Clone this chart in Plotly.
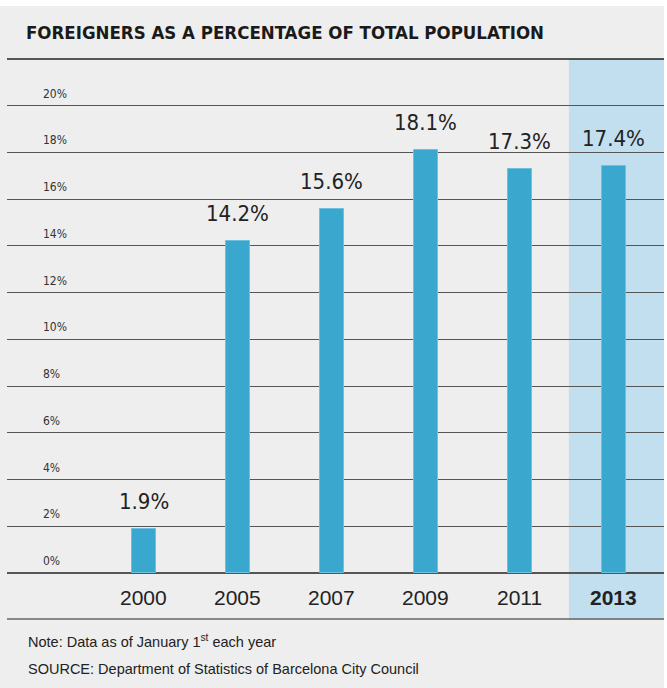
import plotly.graph_objects as go

years = ["2000", "2005", "2007", "2009", "2011", "2013"]
values = [1.9, 14.2, 15.6, 18.1, 17.3, 17.4]
value_labels = ["1.9%", "14.2%", "15.6%", "18.1%", "17.3%", "17.4%"]
y_ticks = [0, 2, 4, 6, 8, 10, 12, 14, 16, 18, 20]
y_tick_labels = ["0%", "2%", "4%", "6%", "8%", "10%", "12%", "14%", "16%", "18%", "20%"]
highlight_year = "2013"

W, H = 667, 688
L, R, T, B = 7, 3, 59, 115
pw, ph = W - L - R, H - T - B

def px_x(p):
    return (p - L) / pw

def px_y(p):
    return (H - B - p) / ph

NARROW = "Liberation Sans Narrow, Arial Narrow, DejaVu Sans Condensed, sans-serif"
SANS = "Liberation Sans, Arial, Helvetica, sans-serif"

xs = list(range(len(years)))
hi = years.index(highlight_year)

fig = go.Figure()
fig.add_trace(go.Bar(
    x=xs, y=values, width=0.25,
    marker=dict(color="#3aa7cf", line=dict(color="#6fc0de", width=1)),
    hoverinfo="skip",
))

shapes = [
    dict(type="rect", xref="paper", yref="paper", x0=px_x(0), x1=px_x(664),
         y0=px_y(688), y1=px_y(6), fillcolor="#eeeeee", line_width=0, layer="below"),
    dict(type="rect", xref="x", yref="paper", x0=hi - 0.48, x1=hi + 0.532,
         y0=px_y(620), y1=1, fillcolor="#c2dfef", line_width=0, layer="below"),
    dict(type="line", xref="paper", yref="paper", x0=0, x1=1,
         y0=px_y(619), y1=px_y(619), line=dict(color="#666666", width=1.5)),
    dict(type="line", xref="paper", yref="paper", x0=0, x1=1,
         y0=1, y1=1, line=dict(color="#222222", width=1.5)),
]

annotations = []
for v, t in zip(y_ticks, y_tick_labels):
    annotations.append(dict(x=px_x(41), xref="paper", y=v, yref="y", text=t,
                            showarrow=False, xanchor="left", yanchor="bottom", yshift=3,
                            font=dict(family=NARROW, size=12, color="#333333")))
for x, v, t in zip(xs, values, value_labels):
    annotations.append(dict(x=x, y=v, text=t, showarrow=False, xanchor="center",
                            yanchor="bottom", yshift=13,
                            font=dict(family=NARROW, size=22, color="#222222")))
for x, t in zip(xs, years):
    txt = "<b>%s</b>" % t if t == highlight_year else t
    annotations.append(dict(x=x, y=px_y(597), yref="paper", text=txt, showarrow=False,
                            xanchor="center", yanchor="middle",
                            font=dict(family=SANS, size=21, color="#222222")))

annotations += [
    dict(x=px_x(24), y=px_y(33), xref="paper", yref="paper", xanchor="left", yanchor="middle",
         text="<b>FOREIGNERS AS A PERCENTAGE OF TOTAL POPULATION</b>", showarrow=False,
         font=dict(family=NARROW, size=18.5, color="#1a1a1a")),
    dict(x=px_x(26), y=px_y(641), xref="paper", yref="paper", xanchor="left", yanchor="middle",
         text="Note: Data as of January 1<sup>st</sup> each year", showarrow=False,
         font=dict(family=SANS, size=14.5, color="#222222")),
    dict(x=px_x(26), y=px_y(669), xref="paper", yref="paper", xanchor="left", yanchor="middle",
         text="SOURCE: Department of Statistics of Barcelona City Council", showarrow=False,
         font=dict(family=SANS, size=14.5, color="#222222")),
]

fig.update_layout(
    width=W, height=H,
    margin=dict(l=L, r=R, t=T, b=B, pad=0),
    paper_bgcolor="white", plot_bgcolor="rgba(0,0,0,0)",
    showlegend=False, bargap=0,
    shapes=shapes, annotations=annotations,
    xaxis=dict(range=[-1.457, 5.532], showticklabels=False, showgrid=False,
               zeroline=False, showline=False, ticks="", fixedrange=True),
    yaxis=dict(range=[0, 22], tickvals=y_ticks + [22], showticklabels=False,
               showgrid=True, gridcolor="#555555", gridwidth=1.3,
               zeroline=True, zerolinecolor="#555555", zerolinewidth=1.5,
               showline=False, ticks="", fixedrange=True),
)

fig.write_html("out.html", config=dict(displayModeBar=False),
               post_script="document.body.style.margin='0';document.body.style.padding='0';")
